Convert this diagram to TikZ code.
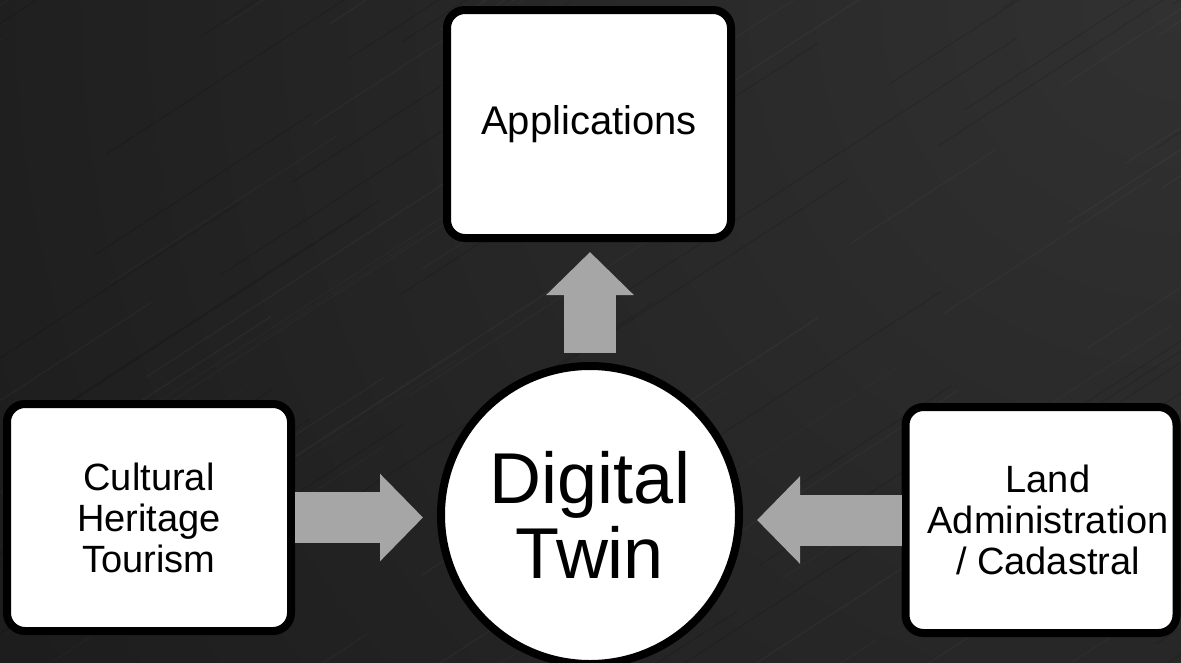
\documentclass[tikz,border=0pt]{standalone}
\usepackage{fontspec}
\setmainfont{Liberation Sans}
\usetikzlibrary{arrows.meta,calc}

\definecolor{bgbase}{HTML}{161616}
\definecolor{bgglow}{HTML}{313131}
\definecolor{flowgray}{HTML}{A6A6A6}

\tikzset{
  topicbox/.style={draw=black, line width=8pt, fill=white, rounded corners=18pt,
    align=center, inner sep=0pt},
  hubcircle/.style={circle, draw=black, line width=8pt, fill=white,
    minimum size=298pt, inner sep=0pt, align=center},
  blockflow/.style={draw=flowgray, line width=52pt,
    -{Triangle[length=43pt, width=85pt]}},
  sidetext/.style={font=\fontsize{38}{41}\selectfont},
}

\begin{document}
\begin{tikzpicture}[x=1pt, y=-1pt]
  % page and brushed dark background
  \useasboundingbox (0,0) rectangle (1181,662);
  \begin{scope}
    \clip (0,0) rectangle (1181,662);
    \fill[bgbase] (0,0) rectangle (1181,662);
    \shade[inner color=bgglow, outer color=bgbase]
      (1181-1800,-1800) rectangle (1181+1800,1800);
    \pgfmathsetseed{4242}
    \foreach \i in {1,...,60} {
      \pgfmathsetmacro{\sx}{rnd*1500-200}
      \pgfmathsetmacro{\sy}{rnd*900}
      \pgfmathsetmacro{\sl}{150+rnd*350}
      \pgfmathsetmacro{\so}{0.015+rnd*0.025}
      \draw[white, opacity=\so, line width=1.2pt]
        (\sx,\sy) -- ++({\sl*cos(33)},{-\sl*sin(33)});
    }
    \foreach \i in {1,...,50} {
      \pgfmathsetmacro{\sx}{rnd*1500-200}
      \pgfmathsetmacro{\sy}{rnd*900}
      \pgfmathsetmacro{\sl}{150+rnd*350}
      \draw[black, opacity=0.12, line width=1pt]
        (\sx,\sy) -- ++({\sl*cos(33)},{-\sl*sin(33)});
    }
  \end{scope}

  % topic boxes and the central hub
  \node[topicbox, minimum width=284pt, minimum height=228pt,
        font=\fontsize{40}{44}\selectfont] (apps) at (589,124) {Applications};
  \node[topicbox, minimum width=284pt, minimum height=227pt, sidetext]
        (heritage) at (149,517.5) {Cultural\\Heritage\\Tourism};
  \node[topicbox, minimum width=271pt, minimum height=226pt, sidetext]
        (land) at (1041,520) {\hspace*{14pt}Land\\\hspace*{14pt}Administration\\\hspace*{14pt}/ Cadastral};
  \node[hubcircle, font=\fontsize{72}{75}\selectfont] (twin) at (590,515)
        {Digital\\Twin};

  % block arrows between them
  \draw[blockflow, line width=51pt, shorten >=14pt]
    (heritage.east) -- (heritage.east -| twin.west);
  \draw[blockflow, line width=51pt, shorten >=14pt]
    (land.west) -- (land.west -| twin.east);
  \draw[blockflow, shorten <=9pt, shorten >=10pt]
    (twin.north) -- (twin.north |- apps.south);
\end{tikzpicture}
\end{document}
